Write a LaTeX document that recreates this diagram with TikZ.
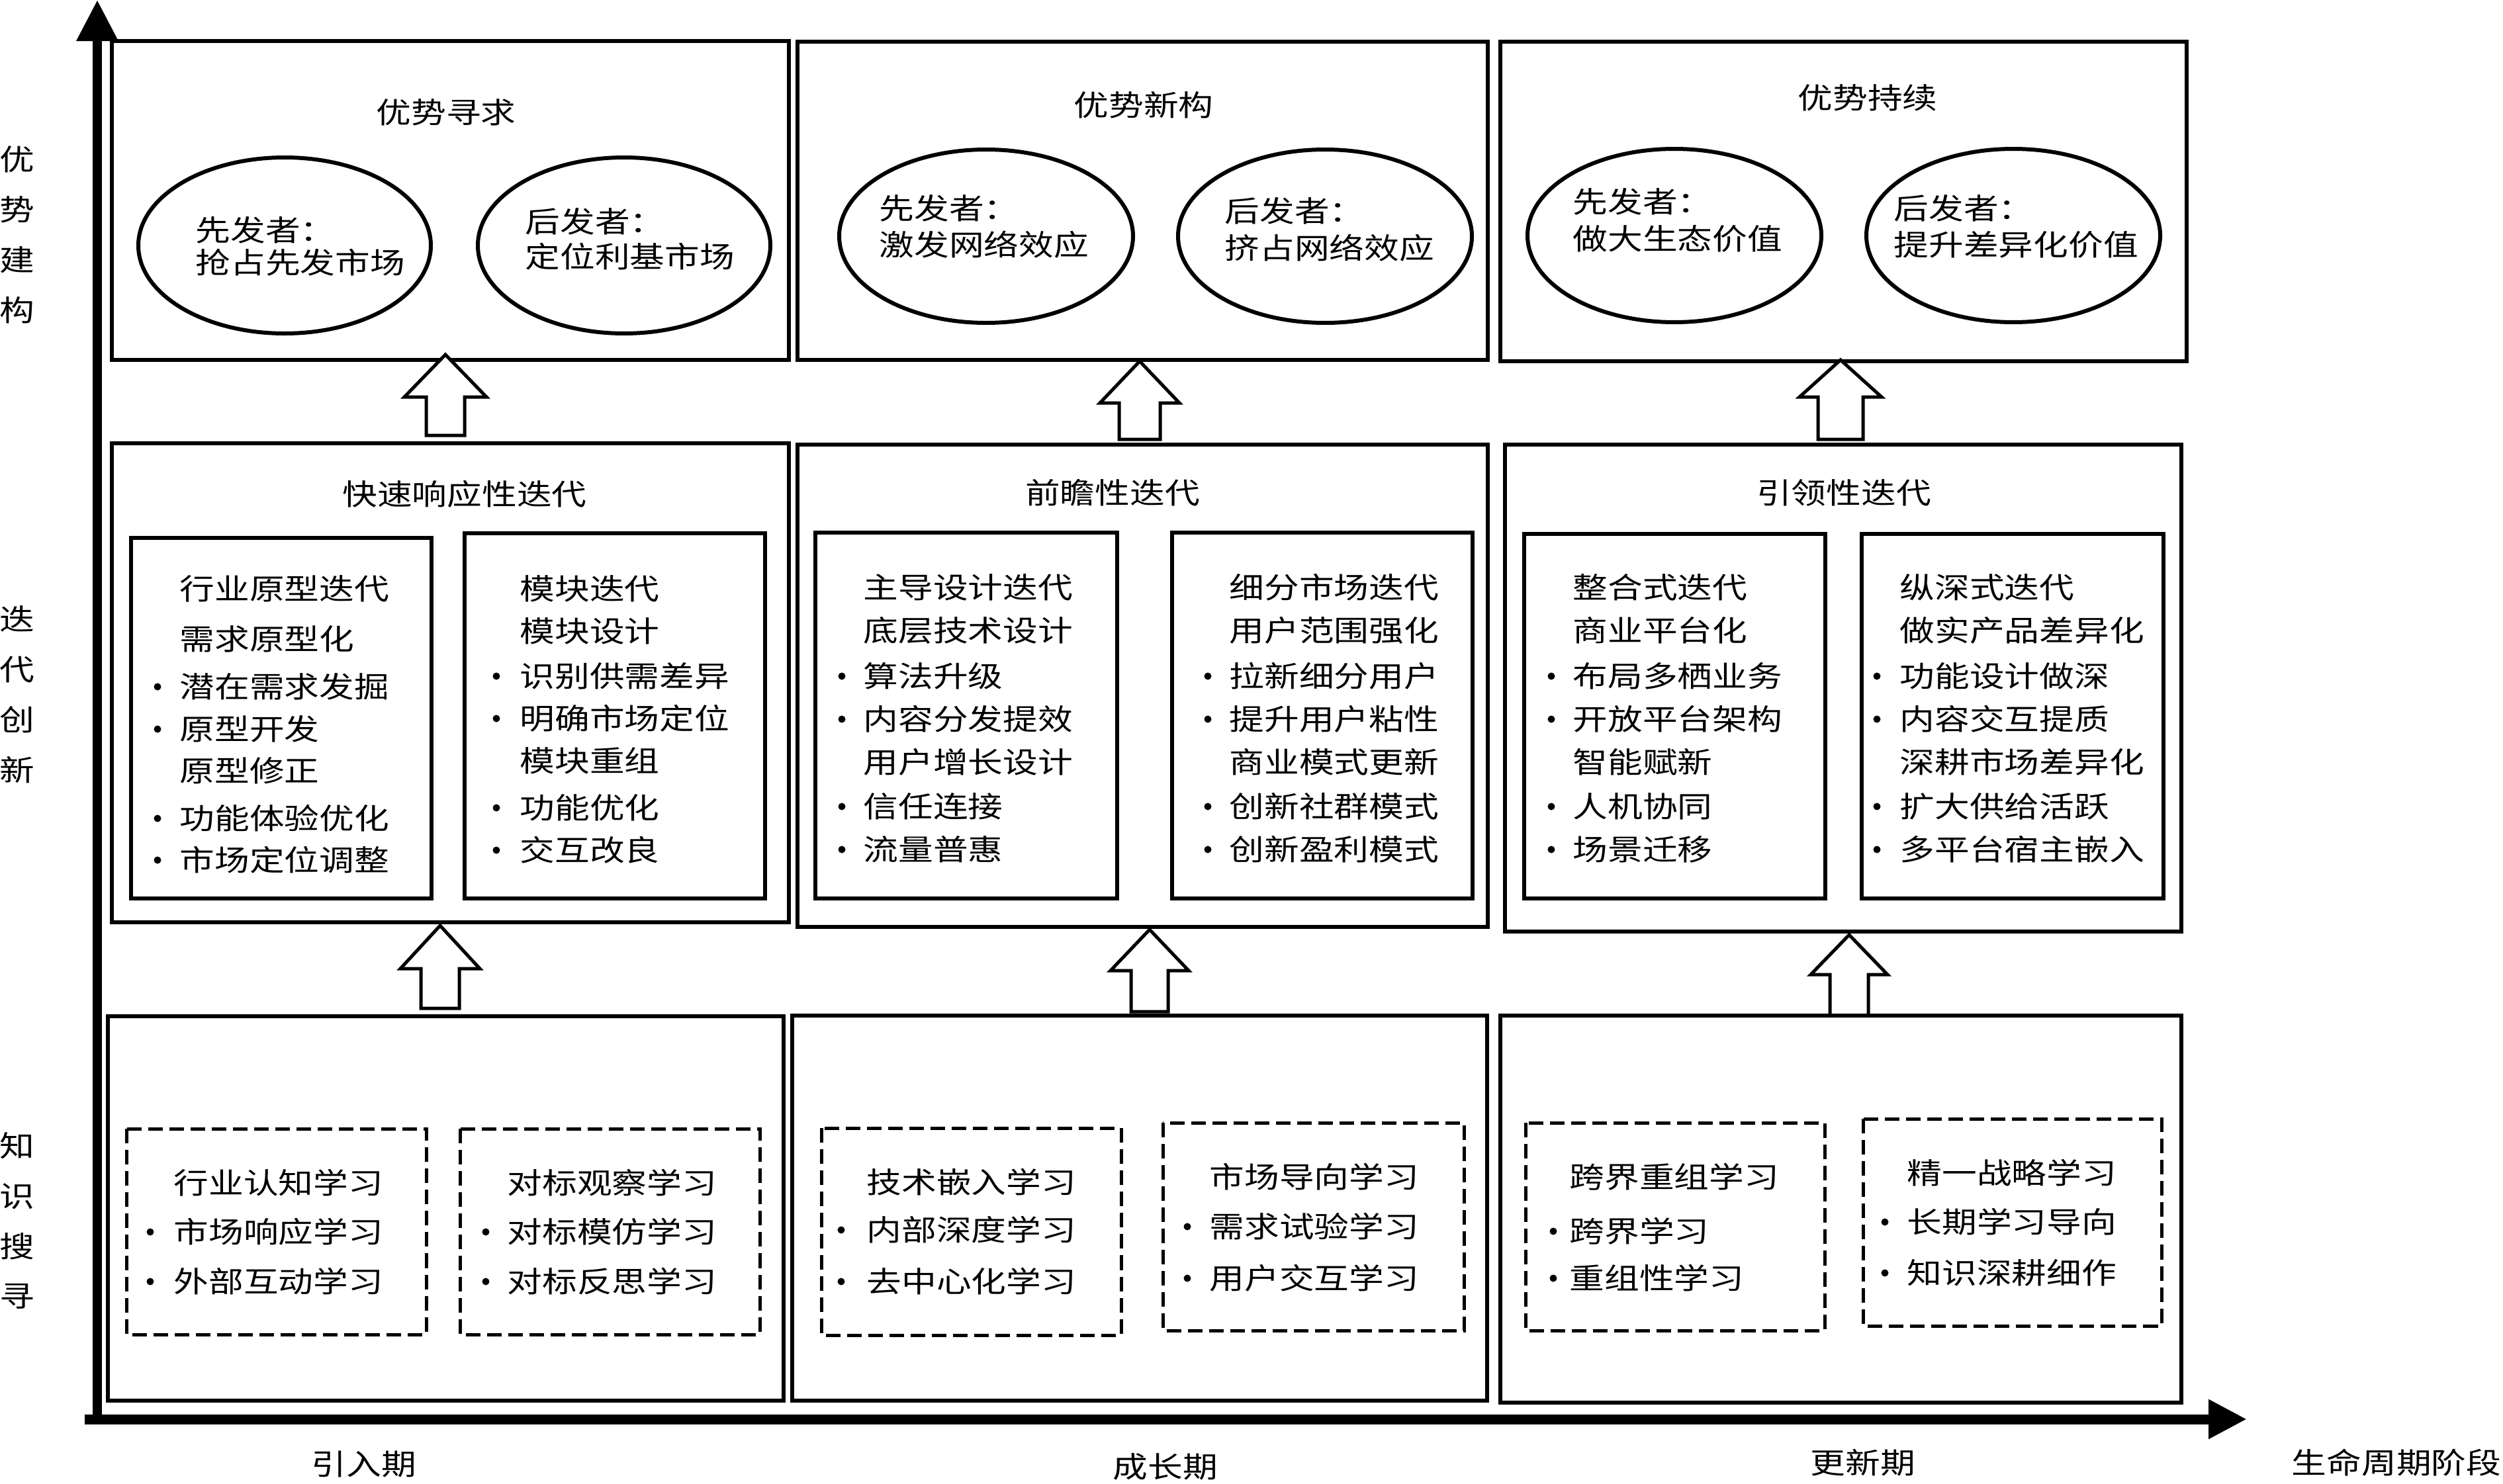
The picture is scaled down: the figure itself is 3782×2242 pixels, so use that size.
\documentclass[tikz,border=0pt]{standalone}
\usepackage{fontspec}
\setmainfont{Noto Sans CJK SC}[FakeStretch=1.2]
\usetikzlibrary{arrows.meta}

\newcommand\lst[4]{%
\foreach \ry/\rt/\rb in {#4}{%
 \node[txt,anchor=west] (#3\ry) at (#2,\ry) {\rt};
 \ifnum\rb=1 \fill (#1,\ry) circle (5.5);\fi}}
\newcommand\uparr[6]{%
\draw[barr] (#1,#2) -- (#1+#5,#3) -- (#1+#6,#3) -- (#1+#6,#4) -- (#1-#6,#4) -- (#1-#6,#3) -- (#1-#5,#3) -- cycle;}

\begin{document}
\begin{tikzpicture}[x=0.01cm,y=-0.01cm,
  txt/.style={inner sep=0pt,font=\fontsize{12.5}{15}\selectfont},
  side/.style={txt,align=center,font=\fontsize{12.5}{21.6}\selectfont},
  box/.style={draw,line width=0.06cm},
  dbox/.style={draw,line width=0.05cm,dash pattern=on 0.22cm off 0.1cm},
  barr/.style={draw,fill=white,line width=0.05cm,line join=miter},
  axis/.style={line width=0.13cm}]
\useasboundingbox (0,0) rectangle (3782,2242);

\draw[axis,-{Triangle[length=0.62cm,width=0.6cm]}] (147,2140) -- (147,0);
\draw[axis,line width=0.15cm,-{Triangle[length=0.58cm,width=0.56cm]}] (128,2145) -- (3395,2145);

\node[side] (ya) at (26,355) {优\\势\\建\\构};
\node[side] (yb) at (26,1050) {迭\\代\\创\\新};
\node[side] (yc) at (26,1845) {知\\识\\搜\\寻};
\node[txt] (xa) at (550,2213) {引入期};
\node[txt] (xb) at (1761,2217) {成长期};
\node[txt] (xc) at (2815,2211) {更新期};
\node[txt,anchor=west] (xd) at (3462,2211) {生命周期阶段};

\draw[box] (169,62) rectangle (1192,544) (1205,63) rectangle (2248,544) (2267,63) rectangle (3304,546);
\node[txt] (ta) at (674,170) {优势寻求};
\node[txt] (tb) at (1728,159) {优势新构};
\node[txt] (tc) at (2822,148) {优势持续};
\draw[box] (430,371) ellipse (221 and 133) (943,371) ellipse (221 and 133);
\draw[box] (1490,357) ellipse (222 and 131) (2002,357) ellipse (222 and 131);
\draw[box] (2530,356) ellipse (222 and 131) (3042,356) ellipse (222 and 131);
\lst{0}{295}{ea}{348/先发者：/0,397/抢占先发市场/0}
\lst{0}{793}{eb}{335/后发者：/0,388/定位利基市场/0}
\lst{0}{1328}{ec}{315/先发者：/0,370/激发网络效应/0}
\lst{0}{1850}{ed}{319/后发者：/0,375/挤占网络效应/0}
\lst{0}{2376}{ee}{305/先发者：/0,361/做大生态价值/0}
\lst{0}{2861}{ef}{315/后发者：/0,370/提升差异化价值/0}

\uparr{673}{536}{600}{658}{62}{29}
\uparr{1722}{546}{609}{664}{60}{31}
\uparr{2781}{544}{600}{664}{62}{34}

\draw[box] (169,670) rectangle (1192,1394) (1205,672) rectangle (2248,1401) (2274,672) rectangle (3296,1408);
\node[txt] (ma) at (702,747) {快速响应性迭代};
\node[txt] (mb) at (1681,745) {前瞻性迭代};
\node[txt] (mc) at (2786,745) {引领性迭代};
\draw[box] (198,813) rectangle (652,1358) (702,806) rectangle (1156,1358);
\draw[box] (1232,805) rectangle (1688,1358) (1771,805) rectangle (2225,1358);
\draw[box] (2303,807) rectangle (2758,1358) (2813,807) rectangle (3269,1358);
\lst{238}{271}{ia}{890/行业原型迭代/0,966/需求原型化/0,1038/潜在需求发掘/1,1102/原型开发/1,1165/原型修正/0,1237/功能体验优化/1,1300/市场定位调整/1}
\lst{750}{785}{ib}{890/模块迭代/0,954/模块设计/0,1022/识别供需差异/1,1086/明确市场定位/1,1150/模块重组/0,1221/功能优化/1,1285/交互改良/1}
\lst{1272}{1304}{ic}{888/主导设计迭代/0,953/底层技术设计/0,1022/算法升级/1,1087/内容分发提效/1,1152/用户增长设计/0,1219/信任连接/1,1284/流量普惠/1}
\lst{1825}{1857}{id}{888/细分市场迭代/0,953/用户范围强化/0,1022/拉新细分用户/1,1087/提升用户粘性/1,1152/商业模式更新/0,1219/创新社群模式/1,1284/创新盈利模式/1}
\lst{2344}{2376}{ie}{888/整合式迭代/0,953/商业平台化/0,1022/布局多栖业务/1,1087/开放平台架构/1,1152/智能赋新/0,1219/人机协同/1,1284/场景迁移/1}
\lst{2836}{2870}{if}{888/纵深式迭代/0,953/做实产品差异化/0,1022/功能设计做深/1,1087/内容交互提质/1,1152/深耕市场差异化/0,1219/扩大供给活跃/1,1284/多平台宿主嵌入/1}

\uparr{665}{1399}{1464}{1524}{60}{29}
\uparr{1737}{1405}{1467}{1529}{59}{28}
\uparr{2794}{1413}{1473}{1535}{58}{29}

\draw[box] (163,1536) rectangle (1184,2117) (1197,1535) rectangle (2247,2117) (2267,1535) rectangle (3296,2120);
\draw[dbox] (191,1706) rectangle (644,2017) (695,1706) rectangle (1148,2017);
\draw[dbox] (1241,1705) rectangle (1694,2018) (1757,1697) rectangle (2212,2011);
\draw[dbox] (2305,1697) rectangle (2757,2011) (2815,1691) rectangle (3266,2004);
\lst{227}{262}{ka}{1788/行业认知学习/0,1862/市场响应学习/1,1937/外部互动学习/1}
\lst{734}{766}{kb}{1788/对标观察学习/0,1862/对标模仿学习/1,1937/对标反思学习/1}
\lst{1271}{1309}{kc}{1787/技术嵌入学习/0,1859/内部深度学习/1,1937/去中心化学习/1}
\lst{1794}{1827}{kd}{1779/市场导向学习/0,1854/需求试验学习/1,1932/用户交互学习/1}
\lst{2347}{2371}{ke}{1779/跨界重组学习/0,1861/跨界学习/1,1932/重组性学习/1}
\lst{2848}{2881}{kf}{1773/精一战略学习/0,1847/长期学习导向/1,1924/知识深耕细作/1}
\end{tikzpicture}
\end{document}
